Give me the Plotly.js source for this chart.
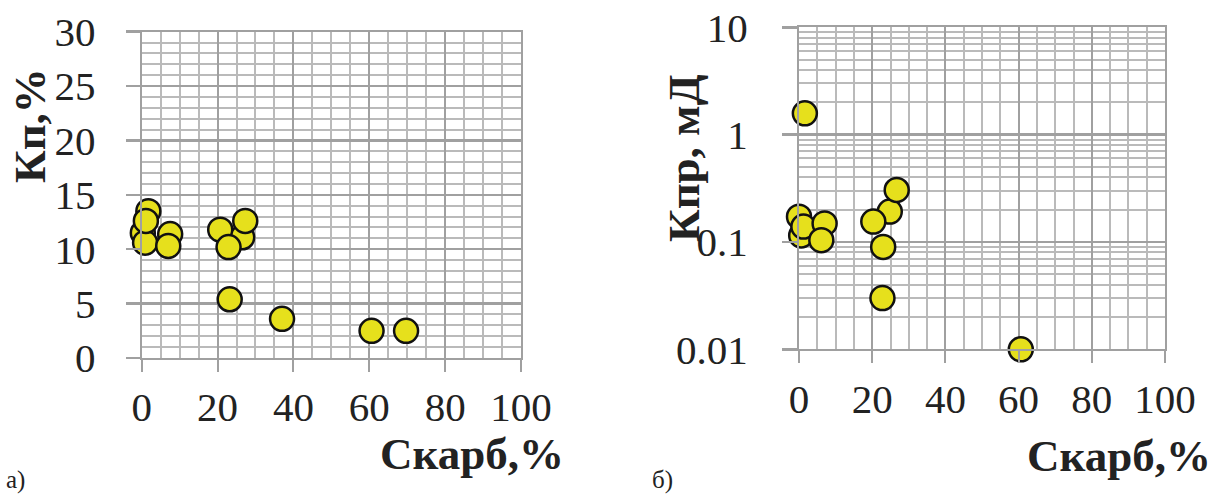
<!DOCTYPE html>
<html>
<head>
<meta charset="utf-8">
<script src="https://cdn.plot.ly/plotly-3.0.1.min.js"></script>
<style>
html,body{margin:0;padding:0;background:#fff;}
#chart{width:1218px;height:494px;}
</style>
</head>
<body>
<div id="chart"></div>
<script>
// Panel а): Кп vs Скарб
var skarbA = [1.75, 0.3, 0.9, 1.1, 7.5, 7.0, 26.5, 20.7, 27.3, 22.9, 23.2, 37.0, 60.6, 69.7];
var kp     = [13.5, 11.5, 10.6, 12.6, 11.4, 10.3, 11.1, 11.8, 12.6, 10.2, 5.4, 3.6, 2.5, 2.5];

// Panel б): Кпр vs Скарб
var skarbB = [1.6, 0.0, 0.6, 1.2, 7.0, 6.1, 24.8, 26.7, 20.3, 23.0, 22.8, 60.6];
var kpr    = [1.58, 0.172, 0.115, 0.139, 0.149, 0.104, 0.192, 0.305, 0.155, 0.090, 0.030, 0.010];

var xTicks = [0, 20, 40, 60, 80, 100];
var yTicksA = [0, 5, 10, 15, 20, 25, 30];
var yTicksB = [0.01, 0.1, 1, 10];
var yTickTextB = ['0.01', '0.1', '1', '10'];

var marker = {size: 24, color: '#e6e01c', line: {color: '#111111', width: 2.5}};
var tickFont = {family: '"Liberation Serif", "Times New Roman", serif', size: 41, color: '#222'};
var titleFont = {family: '"Liberation Serif", "Times New Roman", serif', size: 45, color: '#222'};
var GRID = '#a0a0a0', MINOR = '#bababa';

var traces = [
  {x: skarbA, y: kp, type: 'scatter', mode: 'markers', marker: marker, xaxis: 'x', yaxis: 'y', cliponaxis: false, hoverinfo: 'x+y'},
  {x: skarbB, y: kpr, type: 'scatter', mode: 'markers', marker: marker, xaxis: 'x2', yaxis: 'y2', cliponaxis: false, hoverinfo: 'x+y'}
];

function xAxis(domain, anchor) {
  return {
    domain: domain, anchor: anchor, range: [0, 100],
    tickmode: 'array', tickvals: xTicks,
    showgrid: true, gridcolor: GRID, gridwidth: 2,
    minor: {dtick: 5, showgrid: true, gridcolor: MINOR, gridwidth: 2, ticks: ''},
    ticks: 'outside', ticklen: 12, tickwidth: 2, tickcolor: GRID,
    showline: true, linecolor: GRID, linewidth: 2, mirror: true,
    zeroline: false, tickfont: tickFont, fixedrange: true
  };
}

var layout = {
  width: 1218, height: 494,
  margin: {l: 0, r: 0, t: 0, b: 0},
  paper_bgcolor: '#ffffff', plot_bgcolor: '#ffffff',
  showlegend: false,
  xaxis: xAxis([141.7/1218, 521/1218], 'y'),
  yaxis: {
    domain: [(494-358)/494, (494-31.7)/494], anchor: 'x', range: [0, 30],
    tickmode: 'array', tickvals: yTicksA,
    showgrid: true, gridcolor: GRID, gridwidth: 2.5,
    minor: {dtick: 1, showgrid: true, gridcolor: MINOR, gridwidth: 2, ticks: ''},
    ticks: 'outside', ticklen: 14, tickwidth: 2.5, tickcolor: GRID,
    ticklabelstandoff: 22,
    showline: true, linecolor: GRID, linewidth: 2, mirror: true,
    zeroline: false, tickfont: tickFont, fixedrange: true
  },
  xaxis2: xAxis([799/1218, 1165/1218], 'y2'),
  yaxis2: {
    domain: [(494-349.3)/494, (494-27.3)/494], anchor: 'x2', type: 'log', range: [-2, 1],
    tickmode: 'array', tickvals: yTicksB, ticktext: yTickTextB,
    showgrid: true, gridcolor: GRID, gridwidth: 2.5,
    minor: {dtick: 'D1', showgrid: true, gridcolor: MINOR, gridwidth: 2, ticks: ''},
    ticks: 'outside', ticklen: 15, tickwidth: 2.5, tickcolor: GRID,
    ticklabelstandoff: 26,
    showline: true, linecolor: GRID, linewidth: 2, mirror: true,
    zeroline: false, tickfont: tickFont, fixedrange: true
  },
  annotations: [
    {text: '<b>Кп,%</b>', xref: 'paper', yref: 'paper', x: 30/1218, y: (494-126)/494, textangle: -90,
     showarrow: false, font: titleFont, xanchor: 'center', yanchor: 'middle'},
    {text: '<b>Скарб,%</b>', xref: 'paper', yref: 'paper', x: 472/1218, y: (494-454)/494,
     showarrow: false, font: titleFont, xanchor: 'center', yanchor: 'middle'},
    {text: '<b>Кпр, мД</b>', xref: 'paper', yref: 'paper', x: 684/1218, y: (494-158)/494, textangle: -90,
     showarrow: false, font: titleFont, xanchor: 'center', yanchor: 'middle'},
    {text: '<b>Скарб,%</b>', xref: 'paper', yref: 'paper', x: 1119/1218, y: (494-456)/494,
     showarrow: false, font: titleFont, xanchor: 'center', yanchor: 'middle'},
    {text: 'а)', xref: 'paper', yref: 'paper', x: 4/1218, y: (494-480)/494,
     showarrow: false, font: {family: '"Liberation Serif", serif', size: 25, color: '#222'}, xanchor: 'left', yanchor: 'middle'},
    {text: 'б)', xref: 'paper', yref: 'paper', x: 650/1218, y: (494-480)/494,
     showarrow: false, font: {family: '"Liberation Serif", serif', size: 25, color: '#222'}, xanchor: 'left', yanchor: 'middle'}
  ]
};

Plotly.newPlot('chart', traces, layout, {displayModeBar: false, staticPlot: true});
</script>
</body>
</html>
